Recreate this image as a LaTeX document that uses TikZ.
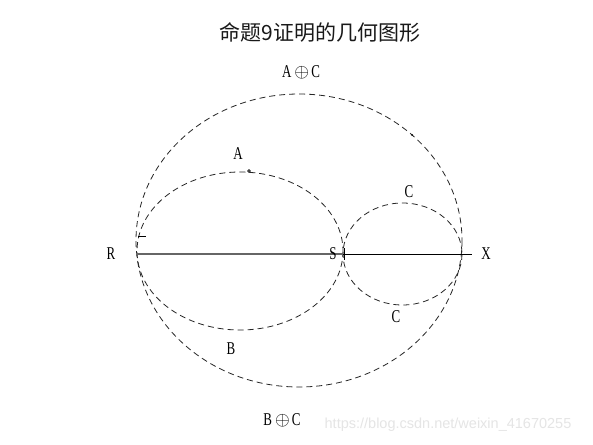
\documentclass[tikz,border=0pt]{standalone}
\usepackage{fontspec}
\usepackage{graphicx}
\newfontfamily\cjk{Noto Sans CJK SC}
\newfontfamily\wm{Liberation Sans}
\newfontfamily\lserif{Liberation Serif}
\newcommand{\narrowtxt}[1]{\scalebox{0.72}[1]{#1}}
\newcommand{\bigop}{\raisebox{0.3pt}{\scalebox{1.1}{$\oplus$}}}
\begin{document}
\begin{tikzpicture}[x=1pt,y=-1pt,
  curve/.style={draw=black!85,line width=0.8pt,dash pattern=on 6pt off 4pt},
  lbl/.style={inner sep=0pt,font=\lserif\fontsize{18}{20}\selectfont},
  ]
\useasboundingbox (0,0) rectangle (593,444);
\fill[white] (0,0) rectangle (593,444);
% curves
\draw[curve] (299,240.5) ellipse [x radius=163, y radius=146.5];
\draw[curve] (240,251) ellipse [x radius=103, y radius=79];
\draw[curve] (402.5,254) ellipse [x radius=59.5, y radius=51];
% base line
\coordinate (R) at (136,254);
\coordinate (S) at (343,254);
\coordinate (X) at (472,254);
\draw[black!60,line width=1.1pt] (R) -- (S);
\draw[black,line width=0.8pt] (S) -- (X);
% ticks
\coordinate (t1) at (138,236);
\coordinate (t2) at (146,236);
\draw[line width=0.7pt] (t1) -- (t2);
\coordinate (t3) at (344.5,248);
\coordinate (t4) at (344.5,260);
\draw[line width=0.7pt] (t3) -- (t4);
% small dots
\draw[line width=0.6pt] (249,171) circle (1.4);
\fill (412,135) circle (1.0);
% labels
\node[inner sep=0pt,text=black!90,font=\cjk\fontsize{21}{24}\selectfont] (title) at (320,32) {命题9证明的几何图形};
\node[lbl] (AC) at (301,72) {\narrowtxt{A}\hspace{3pt}\bigop\hspace{2pt}\narrowtxt{C}};
\node[lbl] (A) at (238,154) {\narrowtxt{A}};
\node[lbl] (C1) at (409,192) {\narrowtxt{C}};
\node[lbl] (C2) at (396,317) {\narrowtxt{C}};
\node[lbl] (B) at (231,349) {\narrowtxt{B}};
\node[lbl] (BC) at (282,420) {\narrowtxt{B}\hspace{3pt}\bigop\hspace{2pt}\narrowtxt{C}};
\node[lbl] (Rl) at (111,254) {\narrowtxt{R}};
\node[lbl] (Sl) at (333,254) {\narrowtxt{S}};
\node[lbl] (Xl) at (486,254) {\narrowtxt{X}};
\node[inner sep=0pt,text=black!10,font=\wm\fontsize{14.5}{16}\selectfont] (wmk) at (448,425) {https://blog.csdn.net/weixin\_41670255};
\end{tikzpicture}
\end{document}
